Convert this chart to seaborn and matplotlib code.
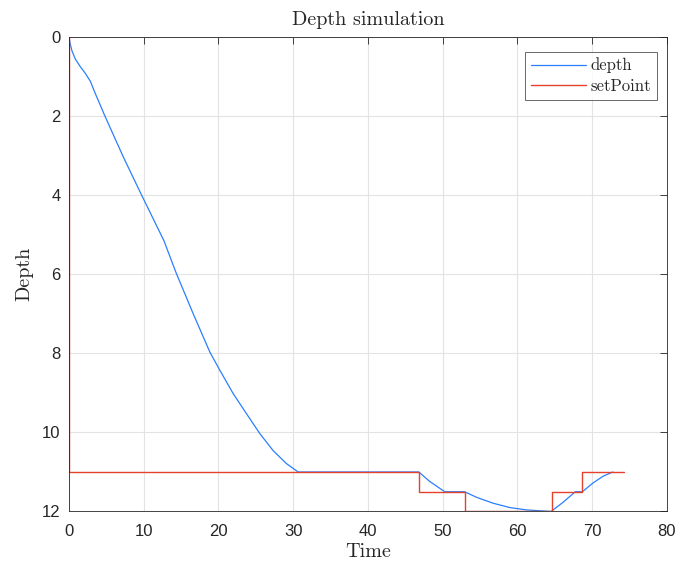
import matplotlib
matplotlib.use("Agg")
import matplotlib.pyplot as plt
import seaborn as sns
import pandas as pd

# Depth response
depth_t = [0.0, 0.17, 0.4, 0.85, 1.52, 2.19, 2.86, 3.5, 4.81, 7.26, 9.72, 12.7, 13.5, 14.3,
           16.62, 18.85, 20.19, 21.97, 23.76, 25.53, 27.31, 29.1, 30.65,
           46.8, 48.26, 50.27, 52.94, 54.5, 56.73, 58.96, 61.19, 64.5,
           66.08, 67.74, 68.68, 70.1, 71.43, 72.77]
depth_v = [0.0, 0.18, 0.35, 0.56, 0.75, 0.92, 1.12, 1.42, 2.0, 3.03, 4.0, 5.15, 5.55, 5.95,
           7.0, 7.97, 8.43, 9.02, 9.53, 10.03, 10.46, 10.79, 11.0,
           11.0, 11.24, 11.5, 11.5, 11.64, 11.79, 11.9, 11.96, 12.0,
           11.77, 11.5, 11.5, 11.28, 11.11, 11.0]

# Set point (step function)
sp_t = [0.0, 0.0, 46.8, 52.94, 64.6, 68.68, 74.3]
sp_v = [0.0, 11.0, 11.5, 12.0, 11.5, 11.0, 11.0]

xticks = [0, 10, 20, 30, 40, 50, 60, 70, 80]
yticks = [0, 2, 4, 6, 8, 10, 12]

sns.set_style("white")
plt.rcParams['font.family'] = ['Liberation Sans', 'DejaVu Sans']

fig = plt.figure(figsize=(6.81, 5.67), dpi=100)
ax = fig.add_axes([0.1013, 0.0979, 0.8781, 0.8368])

blue = '#2a7fff'
red = '#e5412b'

df_d = pd.DataFrame({'t': depth_t, 'v': depth_v})
df_s = pd.DataFrame({'t': sp_t, 'v': sp_v})
sns.lineplot(data=df_d, x='t', y='v', ax=ax, sort=False, estimator=None,
             color=blue, linewidth=0.9, label='depth')
sns.lineplot(data=df_s, x='t', y='v', ax=ax, sort=False, estimator=None,
             color=red, linewidth=1.0, drawstyle='steps-post', label='setPoint')

ax.set_xlim(0, 80)
ax.set_ylim(12, 0)
ax.set_xticks(xticks)
ax.set_yticks(yticks)
ax.set_xticklabels([str(v) for v in xticks])
ax.set_yticklabels([str(v) for v in yticks])
ax.grid(True, color='#e3e3e3', linewidth=0.8)
ax.set_axisbelow(True)
for s in ax.spines.values():
    s.set_visible(True)
    s.set_color('#262626')
    s.set_linewidth(0.6)
ax.tick_params(direction='in', length=5, width=0.6, colors='#262626',
               top=True, right=True, labelsize=12, pad=6)
ax.tick_params(axis='x', pad=9)
for lab in ax.get_xticklabels() + ax.get_yticklabels():
    lab.set_color('#262626')

serif = ['cmr10', 'DejaVu Serif']
ax.set_title('Depth simulation', fontsize=14.5, family=serif, pad=9)
ax.set_xlabel('Time', fontsize=14.5, family=serif, labelpad=3)
ax.set_ylabel('Depth', fontsize=14.5, family=serif, labelpad=6)

leg = ax.legend(loc='upper right', bbox_to_anchor=(0.9835, 0.969),
                prop={'family': serif, 'size': 12}, frameon=True,
                fancybox=False, edgecolor='#262626', handlelength=3.3,
                borderpad=0.35, labelspacing=0.3, handletextpad=0.3,
                borderaxespad=0.0)
leg.get_frame().set_linewidth(0.6)

fig.savefig('out.png', dpi=100)
